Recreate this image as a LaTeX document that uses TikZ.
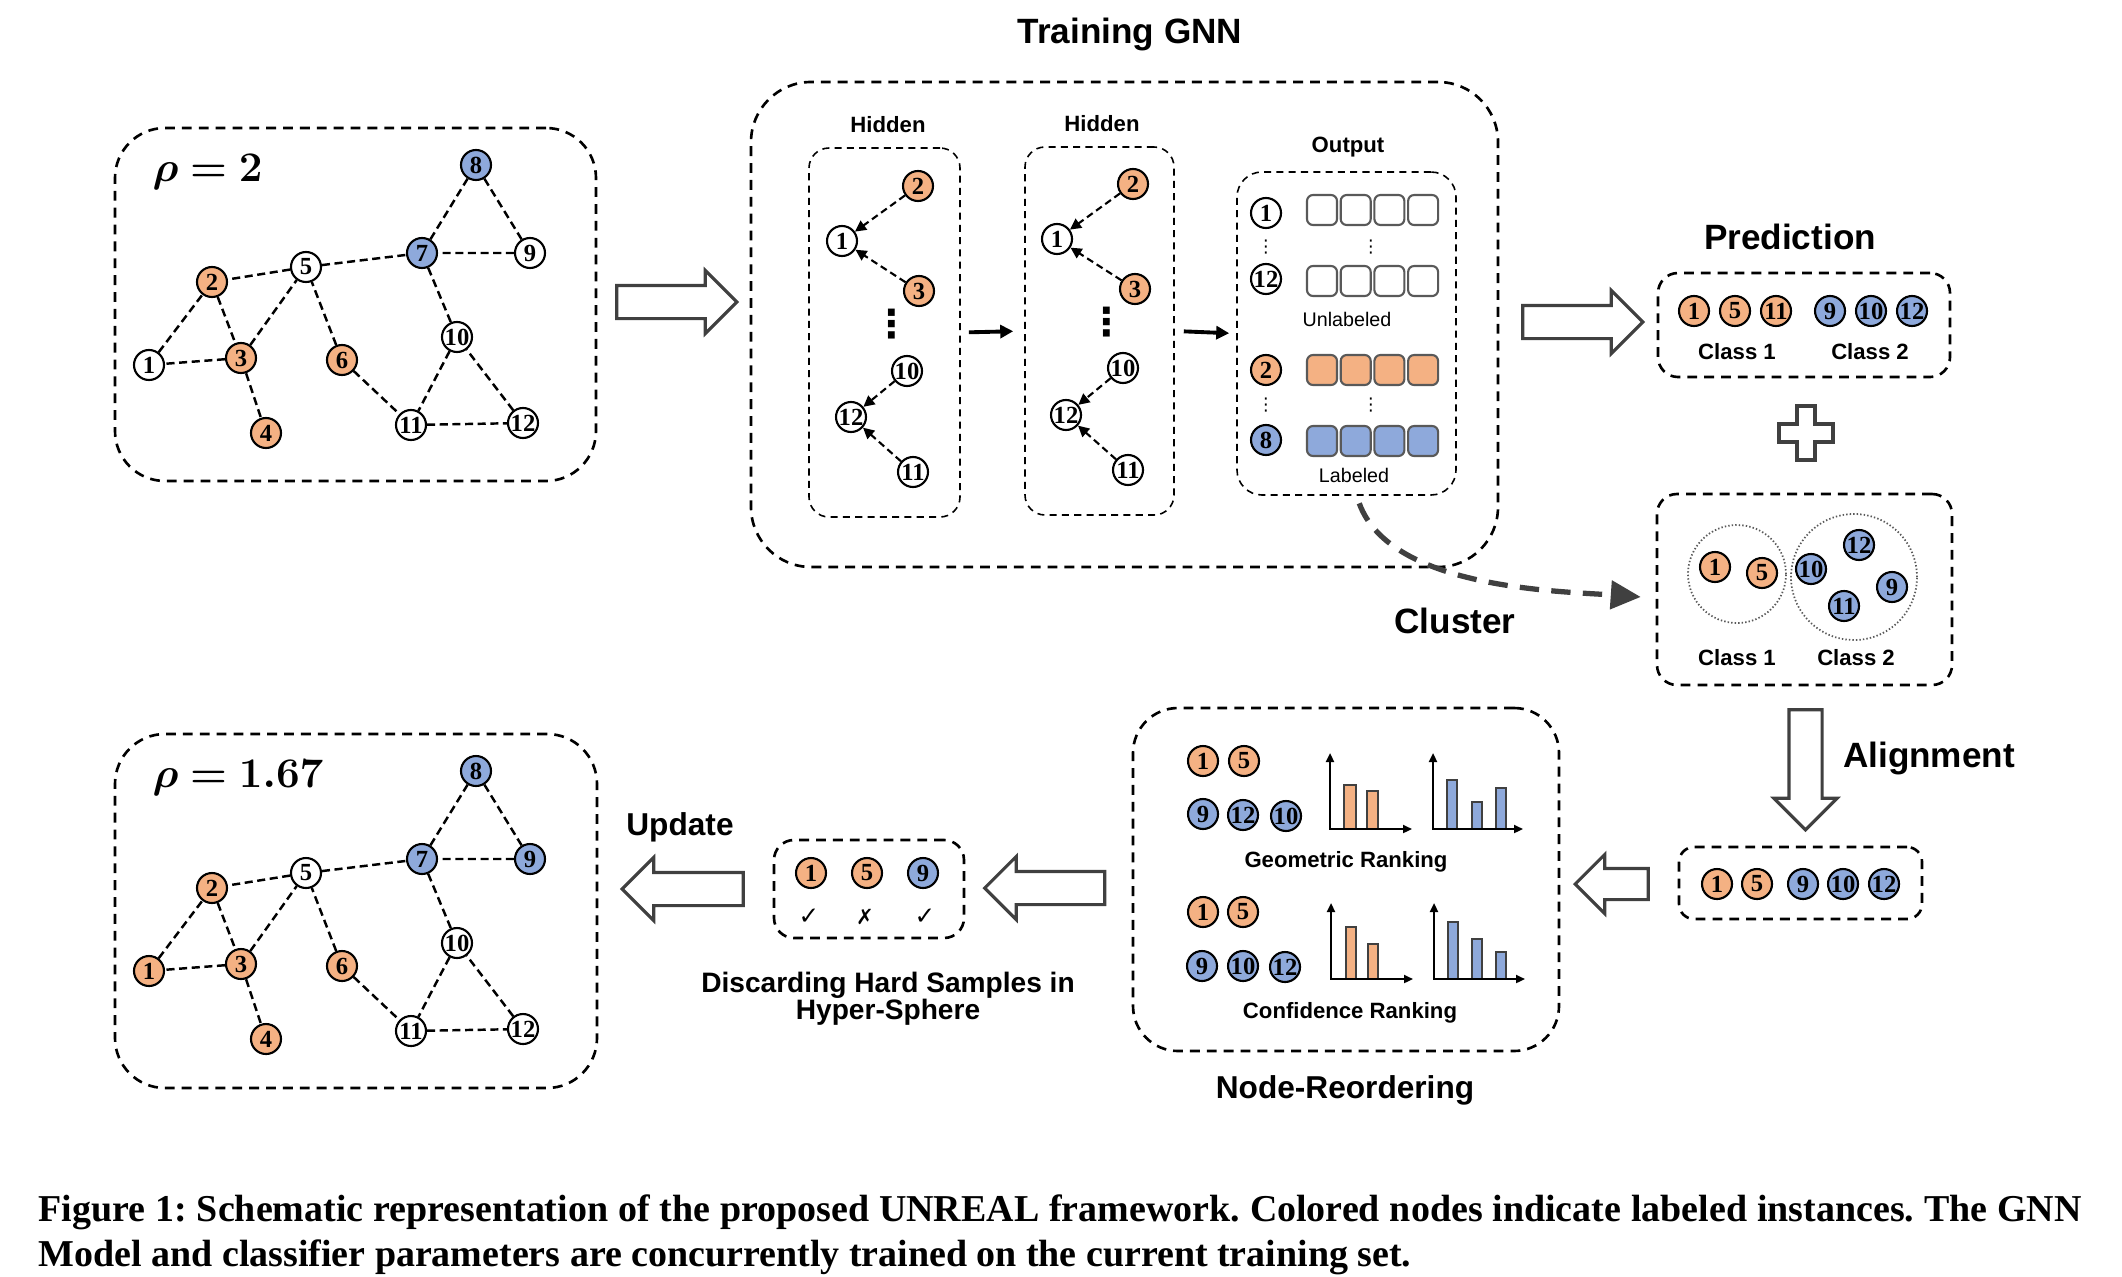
\documentclass[tikz,border=0pt]{standalone}
\usepackage[no-math]{fontspec}
\usepackage{bm}
\setmainfont{Liberation Sans}
\newfontfamily\numfont{Liberation Serif}
\newfontfamily\symfont{DejaVu Sans}
\newfontfamily\capfont{Liberation Serif}
\usepackage{tikz}
\usetikzlibrary{positioning, arrows.meta, shapes.arrows}

\definecolor{labelorange}{HTML}{F4B183}
\definecolor{labelblue}{HTML}{8EA9DB}
\definecolor{arrowgray}{HTML}{404040}
\definecolor{cellgray}{HTML}{595959}

\begin{document}
\begin{tikzpicture}[ % styles for the whole figure
plain_node/.style={circle, draw=black, fill=white, line width=0.6pt, minimum size=3mm, inner sep=0pt, font=\numfont\bfseries\fontsize{7}{7}\selectfont},
orange_node/.style={plain_node, fill=labelorange},
blue_node/.style={plain_node, fill=labelblue},
big_box/.style={rectangle, rounded corners=5mm, draw=black, line width=0.75pt, dash pattern=on 2.8pt off 2pt},
small_box/.style={rectangle, rounded corners=2mm, draw=black, line width=0.75pt, dash pattern=on 2.8pt off 2pt},
layer_box/.style={rectangle, rounded corners=2mm, draw=black, line width=0.45pt, dash pattern=on 2pt off 1.5pt},
graph_edge/.style={line width=0.7pt, dash pattern=on 2.3pt off 1.3pt},
msg_arrow/.style={-{Triangle[length=1.1mm, width=1.1mm]}, line width=0.6pt, dash pattern=on 2pt off 1.2pt},
layer_arrow/.style={-{Triangle[length=1.3mm, width=1.3mm]}, line width=1.1pt},
cluster_arrow/.style={-{Triangle[length=3mm, width=2.8mm]}, draw=arrowgray, line width=1.5pt, dash pattern=on 5.5pt off 3.5pt},
hollow_arrow/.style={single arrow, draw=arrowgray, fill=white, line width=0.9pt, inner xsep=0pt, inner ysep=1.5mm, text height=0pt, text depth=0pt, minimum width=6mm, single arrow head extend=1.5mm},
cell/.style={rectangle, rounded corners=0.6mm, draw=cellgray, line width=0.6pt, minimum size=3mm, inner sep=0pt},
ring/.style={circle, draw=cellgray, line width=0.5pt, dash pattern=on 0.4pt off 0.6pt, inner sep=0pt},
axis_arrow/.style={{Triangle[length=0.9mm, width=0.8mm]}-{Triangle[length=0.9mm, width=0.8mm]}, line width=0.6pt},
orange_bar/.style={draw=arrowgray, line width=0.4pt, fill=labelorange},
blue_bar/.style={draw=arrowgray, line width=0.4pt, fill=labelblue},
title_text/.style={font=\bfseries\fontsize{10}{12}\selectfont},
stage_text/.style={font=\bfseries\fontsize{9}{11}\selectfont},
small_text/.style={font=\bfseries\fontsize{6.3}{7.5}\selectfont},
thin_text/.style={font=\fontsize{5.6}{6.5}\selectfont},
rho_text/.style={font=\fontsize{12}{14}\selectfont, anchor=west, inner sep=0pt},
big_dots/.style={font=\symfont\bfseries\fontsize{11}{11}\selectfont, inner sep=0pt},
small_dots/.style={font=\symfont\fontsize{5}{5}\selectfont, inner sep=0pt},
mark_text/.style={font=\symfont\fontsize{7}{7}\selectfont, inner sep=0pt}
]
\useasboundingbox (0,0) rectangle (21.22,-12.76);

% input graph, rho = 2
\node[big_box, minimum width=4.81cm, minimum height=3.53cm](graph_top) at (3.555,-3.045) {};
\node[rho_text](rho_top) at (1.52,-1.72) {$\bm{\rho = 2}$};
\node[plain_node](t1) at (1.49,-3.65) {1};
\node[orange_node](t2) at (2.12,-2.82) {2};
\node[orange_node](t3) at (2.41,-3.58) {3};
\node[orange_node](t4) at (2.66,-4.33) {4};
\node[plain_node](t5) at (3.06,-2.67) {5};
\node[orange_node](t6) at (3.42,-3.60) {6};
\node[blue_node](t7) at (4.22,-2.53) {7};
\node[blue_node](t8) at (4.76,-1.65) {8};
\node[plain_node](t9) at (5.30,-2.53) {9};
\node[plain_node](t10) at (4.57,-3.37) {10};
\node[plain_node](t11) at (4.11,-4.25) {11};
\node[plain_node](t12) at (5.23,-4.23) {12};
\draw[graph_edge](t1) -- (t2) -- (t3) -- (t1);
\draw[graph_edge](t3) -- (t4);
\draw[graph_edge](t3) -- (t5) -- (t2);
\draw[graph_edge](t6) -- (t5) -- (t7) -- (t8) -- (t9) -- (t7) -- (t10) -- (t11) -- (t12) -- (t10);
\draw[graph_edge](t6) -- (t11);

% updated graph, rho = 1.67
\node[big_box, minimum width=4.82cm, minimum height=3.54cm](graph_bottom) at (3.56,-9.11) {};
\node[rho_text](rho_bottom) at (1.52,-7.78) {$\bm{\rho = 1.67}$};
\node[orange_node](b1) at (1.49,-9.71) {1};
\node[orange_node](b2) at (2.12,-8.88) {2};
\node[orange_node](b3) at (2.41,-9.64) {3};
\node[orange_node](b4) at (2.66,-10.39) {4};
\node[plain_node](b5) at (3.06,-8.73) {5};
\node[orange_node](b6) at (3.42,-9.66) {6};
\node[blue_node](b7) at (4.22,-8.59) {7};
\node[blue_node](b8) at (4.76,-7.71) {8};
\node[blue_node](b9) at (5.30,-8.59) {9};
\node[plain_node](b10) at (4.57,-9.43) {10};
\node[plain_node](b11) at (4.11,-10.31) {11};
\node[plain_node](b12) at (5.23,-10.29) {12};
\draw[graph_edge](b1) -- (b2) -- (b3) -- (b1);
\draw[graph_edge](b3) -- (b4);
\draw[graph_edge](b3) -- (b5) -- (b2);
\draw[graph_edge](b6) -- (b5) -- (b7) -- (b8) -- (b9) -- (b7) -- (b10) -- (b11) -- (b12) -- (b10);
\draw[graph_edge](b6) -- (b11);

% training GNN
\node[big_box, rounded corners=6mm, minimum width=7.47cm, minimum height=4.85cm](gnn_box) at (11.245,-3.245) {};
\node[title_text](gnn_title) at (11.30,-0.34) {Training GNN};

\node[layer_box, minimum width=1.51cm, minimum height=3.69cm](hidden_1) at (8.845,-3.325) {};
\node[small_text](hidden_1_title) at (8.88,-1.25) {Hidden};
\node[orange_node](h1_2) at (9.18,-1.86) {2};
\node[plain_node](h1_1) at (8.42,-2.41) {1};
\node[orange_node](h1_3) at (9.19,-2.91) {3};
\node[big_dots](h1_dots) at (8.92,-3.24) {⋮};
\node[plain_node](h1_10) at (9.07,-3.71) {10};
\node[plain_node](h1_12) at (8.51,-4.17) {12};
\node[plain_node](h1_11) at (9.13,-4.72) {11};
\draw[msg_arrow](h1_2) -- (h1_1);
\draw[msg_arrow](h1_3) -- (h1_1);
\draw[msg_arrow](h1_10) -- (h1_12);
\draw[msg_arrow](h1_11) -- (h1_12);

\node[layer_box, minimum width=1.49cm, minimum height=3.68cm](hidden_2) at (10.995,-3.31) {};
\node[small_text](hidden_2_title) at (11.02,-1.24) {Hidden};
\node[orange_node](h2_2) at (11.33,-1.84) {2};
\node[plain_node](h2_1) at (10.57,-2.39) {1};
\node[orange_node](h2_3) at (11.35,-2.89) {3};
\node[big_dots](h2_dots) at (11.07,-3.22) {⋮};
\node[plain_node](h2_10) at (11.23,-3.68) {10};
\node[plain_node](h2_12) at (10.66,-4.15) {12};
\node[plain_node](h2_11) at (11.28,-4.70) {11};
\draw[msg_arrow](h2_2) -- (h2_1);
\draw[msg_arrow](h2_3) -- (h2_1);
\draw[msg_arrow](h2_10) -- (h2_12);
\draw[msg_arrow](h2_11) -- (h2_12);

\node[layer_box, rounded corners=2.5mm, minimum width=2.19cm, minimum height=3.23cm](output_box) at (13.465,-3.335) {};
\node[small_text](output_title) at (13.48,-1.47) {Output};
\node[plain_node](o_1) at (12.66,-2.13) {1};
\node[small_dots](o_dots_a) at (12.66,-2.47) {⋮};
\node[plain_node](o_12) at (12.66,-2.79) {12};
\node[orange_node](o_2) at (12.66,-3.70) {2};
\node[small_dots](o_dots_b) at (12.66,-4.05) {⋮};
\node[blue_node](o_8) at (12.66,-4.40) {8};
\foreach \i in {1,...,4} {
  \node[cell, fill=white](row_1_\i) at ({12.883+0.337*\i},-2.10) {};
  \node[cell, fill=white](row_12_\i) at ({12.883+0.337*\i},-2.81) {};
  \node[cell, fill=labelorange](row_2_\i) at ({12.883+0.337*\i},-3.70) {};
  \node[cell, fill=labelblue](row_8_\i) at ({12.883+0.337*\i},-4.41) {};
}
\node[small_dots](cell_dots_a) at (13.71,-2.47) {⋮};
\node[small_dots](cell_dots_b) at (13.71,-4.05) {⋮};
\node[thin_text](unlabeled_text) at (13.47,-3.19) {Unlabeled};
\node[thin_text](labeled_text) at (13.54,-4.75) {Labeled};

\draw[layer_arrow, shorten <=0.8mm, shorten >=1.1mm](hidden_1.east) -- (hidden_2.west);
\draw[layer_arrow, shorten <=0.9mm, shorten >=0.7mm](hidden_2.east) -- (output_box.west);

% hollow arrows
\node[hollow_arrow, minimum height=12mm](arrow_train) at (6.685,-3.02) {};
\node[hollow_arrow, minimum height=12mm](arrow_predict) at (15.745,-3.22) {};
\node[hollow_arrow, minimum height=12mm, rotate=-90](arrow_align) at (18.055,-7.615) {};
\node[hollow_arrow, minimum height=7.3mm, minimum width=5.6mm, inner ysep=1.4mm, single arrow head extend=1.4mm, rotate=180](arrow_reorder) at (16.195,-8.84) {};
\node[hollow_arrow, minimum height=12mm, rotate=180](arrow_discard) at (10.53,-8.88) {};
\node[hollow_arrow, minimum height=12.1mm, rotate=180](arrow_update) at (6.91,-8.89) {};

% prediction
\node[title_text](predict_title) at (17.90,-2.37) {Prediction};
\node[small_box, minimum width=2.92cm, minimum height=1.04cm](predict_box) at (18.04,-3.25) {};
\node[orange_node](p_1) at (16.94,-3.11) {1};
\node[orange_node](p_5) at (17.35,-3.11) {5};
\node[orange_node](p_11) at (17.76,-3.11) {11};
\node[blue_node](p_9) at (18.30,-3.11) {9};
\node[blue_node](p_10) at (18.71,-3.11) {10};
\node[blue_node](p_12) at (19.12,-3.11) {12};
\node[small_text](predict_class_1) at (17.37,-3.52) {Class 1};
\node[small_text](predict_class_2) at (18.70,-3.52) {Class 2};

\coordinate (plus_center) at (18.06,-4.33);
\draw[draw=arrowgray, line width=0.9pt, fill=white](plus_center) ++(-0.09,0.27) -- ++(0.18,0) -- ++(0,-0.18) -- ++(0.18,0) -- ++(0,-0.18) -- ++(-0.18,0) -- ++(0,-0.18) -- ++(-0.18,0) -- ++(0,0.18) -- ++(-0.18,0) -- ++(0,0.18) -- ++(0.18,0) -- cycle;

% cluster
\node[small_box, minimum width=2.95cm, minimum height=1.91cm](cluster_box) at (18.045,-5.895) {};
\node[ring, minimum size=9.8mm](ring_1) at (17.37,-5.74) {};
\node[ring, minimum size=12.6mm](ring_2) at (18.54,-5.77) {};
\node[orange_node](c_1) at (17.15,-5.67) {1};
\node[orange_node](c_5) at (17.62,-5.73) {5};
\node[blue_node](c_10) at (18.11,-5.69) {10};
\node[blue_node](c_12) at (18.59,-5.45) {12};
\node[blue_node](c_9) at (18.92,-5.87) {9};
\node[blue_node](c_11) at (18.44,-6.06) {11};
\node[small_text](cluster_class_1) at (17.37,-6.58) {Class 1};
\node[small_text](cluster_class_2) at (18.56,-6.58) {Class 2};
\draw[cluster_arrow, shorten <=0.8mm, shorten >=1.5mm]([xshift=1mm]output_box.south) to [out=-70, in=176, looseness=0.8] ([yshift=-0.85mm]cluster_box.west);
\node[title_text](cluster_title) at (14.55,-6.21) {Cluster};

% alignment
\node[title_text](align_title) at (19.29,-7.58) {Alignment};
\node[small_box, rounded corners=1.5mm, minimum width=2.43cm, minimum height=0.72cm](align_box) at (18.005,-8.83) {};
\node[orange_node](a_1) at (17.17,-8.84) {1};
\node[orange_node](a_5) at (17.57,-8.84) {5};
\node[blue_node](a_9) at (18.03,-8.84) {9};
\node[blue_node](a_10) at (18.43,-8.84) {10};
\node[blue_node](a_12) at (18.84,-8.84) {12};

% node reordering
\node[big_box, rounded corners=4.5mm, minimum width=4.26cm, minimum height=3.43cm](reorder_box) at (13.46,-8.795) {};
\node[stage_text](reorder_title) at (13.45,-10.90) {Node-Reordering};
\node[orange_node](r_1) at (12.03,-7.61) {1};
\node[orange_node](r_5) at (12.44,-7.61) {5};
\node[blue_node](r_9) at (12.03,-8.14) {9};
\node[blue_node](r_12) at (12.43,-8.15) {12};
\node[blue_node](r_10) at (12.86,-8.16) {10};
\node[orange_node](s_1) at (12.03,-9.12) {1};
\node[orange_node](s_5) at (12.43,-9.12) {5};
\node[blue_node](s_9) at (12.02,-9.66) {9};
\node[blue_node](s_10) at (12.43,-9.66) {10};
\node[blue_node](s_12) at (12.85,-9.67) {12};

\coordinate (geo_orange) at (13.30,-8.29);
\coordinate (geo_blue) at (14.33,-8.29);
\coordinate (conf_orange) at (13.31,-9.79);
\coordinate (conf_blue) at (14.34,-9.79);
\draw[orange_bar]([xshift=1.4mm]geo_orange) rectangle ++(1.2mm,4.4mm);
\draw[orange_bar]([xshift=3.7mm]geo_orange) rectangle ++(1.1mm,3.8mm);
\draw[blue_bar]([xshift=1.4mm]geo_blue) rectangle ++(1mm,4.9mm);
\draw[blue_bar]([xshift=3.9mm]geo_blue) rectangle ++(1mm,2.7mm);
\draw[blue_bar]([xshift=6.3mm]geo_blue) rectangle ++(1mm,4.1mm);
\draw[orange_bar]([xshift=1.5mm]conf_orange) rectangle ++(1mm,5.2mm);
\draw[orange_bar]([xshift=3.7mm]conf_orange) rectangle ++(1mm,3.5mm);
\draw[blue_bar]([xshift=1.4mm]conf_blue) rectangle ++(1mm,5.7mm);
\draw[blue_bar]([xshift=3.8mm]conf_blue) rectangle ++(1mm,4mm);
\draw[blue_bar]([xshift=6.2mm]conf_blue) rectangle ++(1mm,2.7mm);
\draw[axis_arrow]([yshift=7.6mm]geo_orange) -- (geo_orange) -- ([xshift=8.2mm]geo_orange);
\draw[axis_arrow]([yshift=7.6mm]geo_blue) -- (geo_blue) -- ([xshift=9mm]geo_blue);
\draw[axis_arrow]([yshift=7.6mm]conf_orange) -- (conf_orange) -- ([xshift=8.2mm]conf_orange);
\draw[axis_arrow]([yshift=7.6mm]conf_blue) -- (conf_blue) -- ([xshift=9.1mm]conf_blue);
\node[small_text](geo_text) at (13.46,-8.62) {Geometric Ranking};
\node[small_text](conf_text) at (13.50,-10.13) {Confidence Ranking};

% discarding hard samples
\node[small_box, minimum width=1.90cm, minimum height=0.98cm](discard_box) at (8.69,-8.89) {};
\node[orange_node](d_1) at (8.11,-8.73) {1};
\node[orange_node](d_5) at (8.67,-8.73) {5};
\node[blue_node](d_9) at (9.23,-8.73) {9};
\node[mark_text](keep_1) at (8.09,-9.17) {✓};
\node[mark_text, font=\symfont\bfseries\fontsize{6}{6}\selectfont](drop_5) at (8.65,-9.17) {✗};
\node[mark_text](keep_9) at (9.25,-9.17) {✓};
\node[font=\bfseries\fontsize{8}{7.6}\selectfont, align=center](discard_text) at (8.88,-9.99) {Discarding Hard Samples in\\Hyper-Sphere};
\node[stage_text](update_title) at (6.80,-8.27) {Update};

% caption
\node[anchor=north west, inner sep=0pt, text width=20.43cm, align=justify, font=\capfont\bfseries\fontsize{10.8}{12.8}\selectfont\frenchspacing](caption) at (0.38,-11.94) {Figure 1: Schematic representation of the proposed UNREAL framework. Colored nodes indicate labeled instances. The GNN\linebreak Model and classifier parameters are concurrently trained on the current training set.};

\end{tikzpicture}
\end{document}
